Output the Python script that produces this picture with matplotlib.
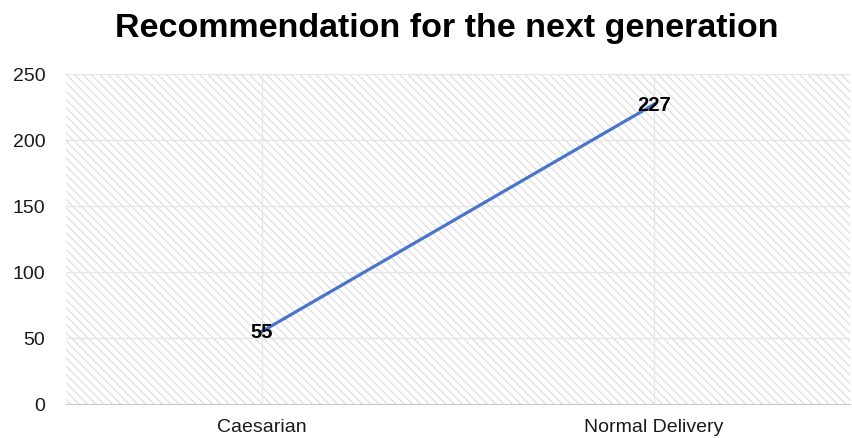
import matplotlib
matplotlib.use("Agg")
import matplotlib.pyplot as plt
from matplotlib.patches import Rectangle

categories = ["Caesarian", "Normal Delivery"]
counts = [55, 227]
y_ticks = [0, 50, 100, 150, 200, 250]

plt.rcParams['font.family'] = ['Liberation Sans', 'DejaVu Sans']
plt.rcParams['hatch.color'] = '#dedede'
plt.rcParams['hatch.linewidth'] = 0.9

fig = plt.figure(figsize=(8.52, 4.39), dpi=100)
ax = fig.add_axes([66 / 852, 1 - 405 / 439, 784 / 852, 330 / 439])

x = list(range(len(categories)))

# hatched background
ax.add_patch(Rectangle((0, 0), 1, 1, transform=ax.transAxes, facecolor='white',
                       edgecolor='#dedede', hatch='\\\\\\\\', linewidth=0, zorder=0))

ax.plot(x, counts, color='#4a74cc', linewidth=2.3, zorder=3)
for xi, v in zip(x, counts):
    ax.text(xi, v, str(v), ha='center', va='center', fontsize=14.5,
            fontweight='bold', color='black', zorder=4)

ax.set_xlim(-0.5, len(categories) - 0.5)
ax.set_ylim(0, 250)
ax.set_xticks(x)
ax.set_xticklabels(categories, fontsize=14)
ax.set_yticks(y_ticks)
ax.tick_params(axis='both', length=0, labelsize=14, colors='#1a1a1a')
ax.tick_params(axis='x', pad=10)
ax.tick_params(axis='y', pad=15)
ax.grid(True, color='#e6e6e6', linewidth=1.0, zorder=1)
ax.set_axisbelow(True)
for s in ['top', 'right', 'left']:
    ax.spines[s].set_visible(False)
ax.spines['bottom'].set_color('#cccccc')

fig.suptitle("Recommendation for the next generation", fontsize=24.5,
             fontweight='bold', x=447 / 852, y=1 - 29 / 439, va='center')

fig.savefig("out.png", dpi=100)
